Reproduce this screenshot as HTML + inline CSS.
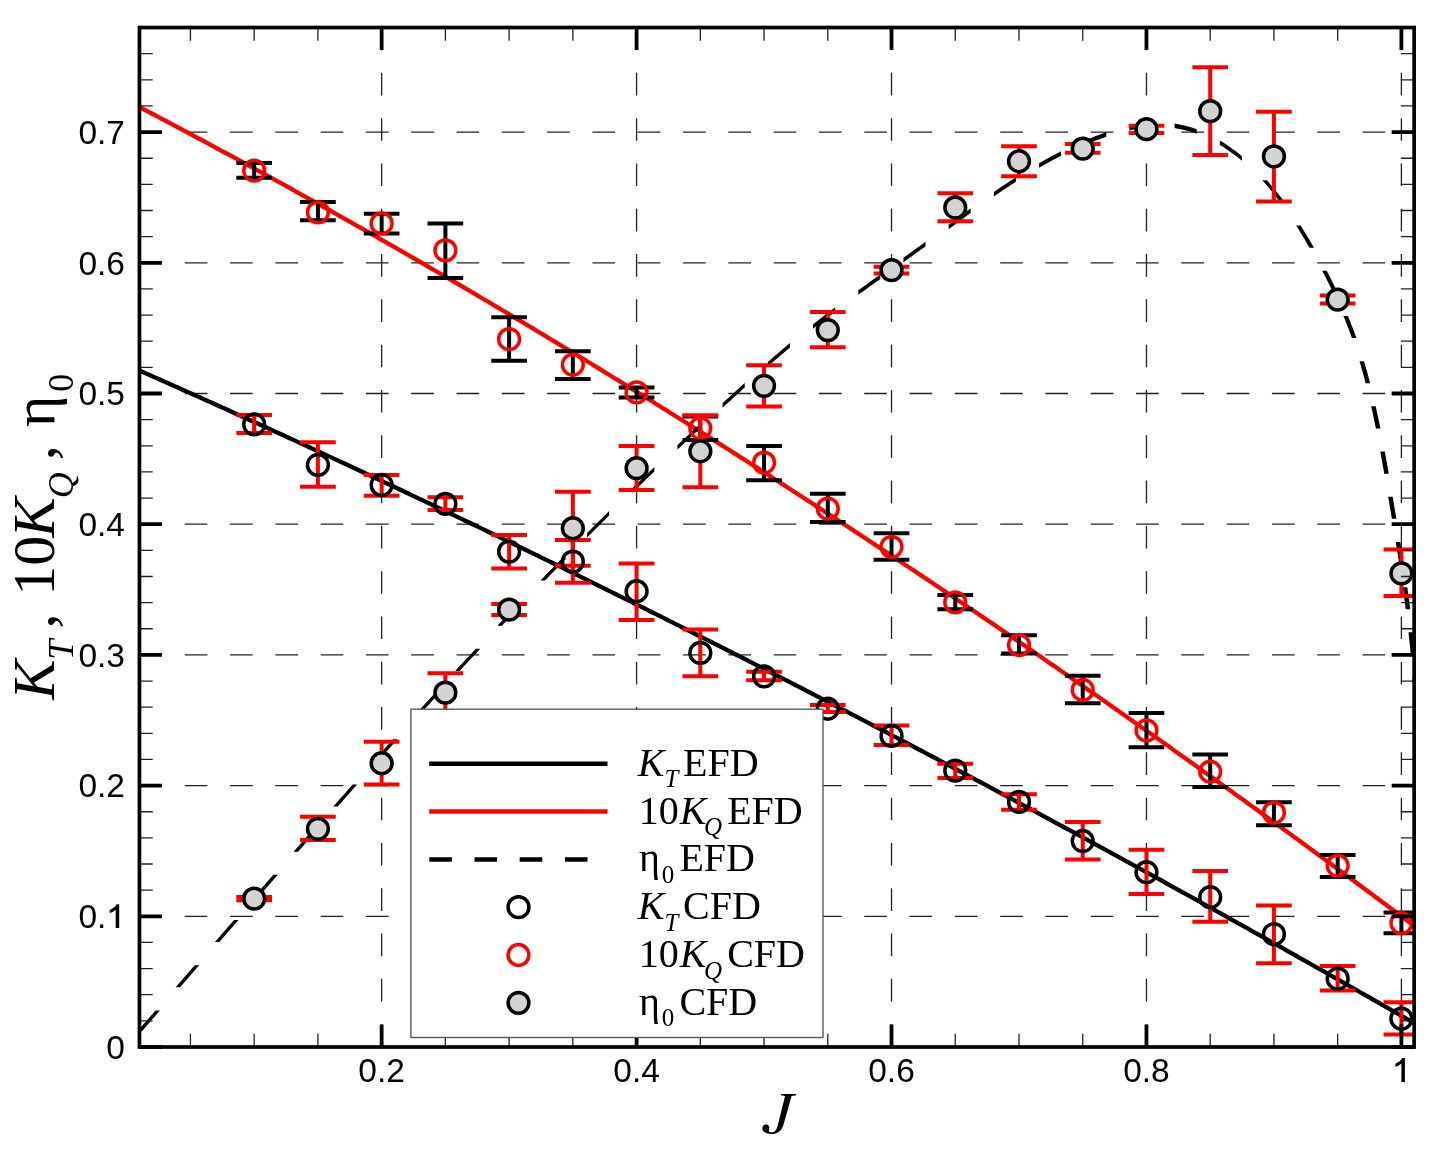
<!DOCTYPE html>
<html><head><meta charset="utf-8"><style>
html,body{margin:0;padding:0;background:#fff;overflow:hidden;}
svg{display:block;will-change:transform;}
</style></head><body>
<svg width="1438" height="1152" viewBox="0 0 1438 1152">
<defs><clipPath id="c"><rect x="139.45" y="27.54" width="1274.70" height="1019.46"/></clipPath></defs>
<path d="M139.45,916.30H162.10M184.75,916.30H207.40M230.05,916.30H252.70M275.35,916.30H298.00M320.65,916.30H343.30M365.95,916.30H388.60M411.25,916.30H433.90M456.55,916.30H479.20M501.85,916.30H524.50M547.15,916.30H569.80M592.45,916.30H615.10M637.75,916.30H660.40M683.05,916.30H705.70M728.35,916.30H751.00M773.65,916.30H796.30M818.95,916.30H841.60M864.25,916.30H886.90M909.55,916.30H932.20M954.85,916.30H977.50M1000.15,916.30H1022.80M1045.45,916.30H1068.10M1090.75,916.30H1113.40M1136.05,916.30H1158.70M1181.35,916.30H1204.00M1226.65,916.30H1249.30M1271.95,916.30H1294.60M1317.25,916.30H1339.90M1362.55,916.30H1385.20M1407.85,916.30H1414.15M139.45,785.60H162.10M184.75,785.60H207.40M230.05,785.60H252.70M275.35,785.60H298.00M320.65,785.60H343.30M365.95,785.60H388.60M411.25,785.60H433.90M456.55,785.60H479.20M501.85,785.60H524.50M547.15,785.60H569.80M592.45,785.60H615.10M637.75,785.60H660.40M683.05,785.60H705.70M728.35,785.60H751.00M773.65,785.60H796.30M818.95,785.60H841.60M864.25,785.60H886.90M909.55,785.60H932.20M954.85,785.60H977.50M1000.15,785.60H1022.80M1045.45,785.60H1068.10M1090.75,785.60H1113.40M1136.05,785.60H1158.70M1181.35,785.60H1204.00M1226.65,785.60H1249.30M1271.95,785.60H1294.60M1317.25,785.60H1339.90M1362.55,785.60H1385.20M1407.85,785.60H1414.15M139.45,654.90H162.10M184.75,654.90H207.40M230.05,654.90H252.70M275.35,654.90H298.00M320.65,654.90H343.30M365.95,654.90H388.60M411.25,654.90H433.90M456.55,654.90H479.20M501.85,654.90H524.50M547.15,654.90H569.80M592.45,654.90H615.10M637.75,654.90H660.40M683.05,654.90H705.70M728.35,654.90H751.00M773.65,654.90H796.30M818.95,654.90H841.60M864.25,654.90H886.90M909.55,654.90H932.20M954.85,654.90H977.50M1000.15,654.90H1022.80M1045.45,654.90H1068.10M1090.75,654.90H1113.40M1136.05,654.90H1158.70M1181.35,654.90H1204.00M1226.65,654.90H1249.30M1271.95,654.90H1294.60M1317.25,654.90H1339.90M1362.55,654.90H1385.20M1407.85,654.90H1414.15M139.45,524.20H162.10M184.75,524.20H207.40M230.05,524.20H252.70M275.35,524.20H298.00M320.65,524.20H343.30M365.95,524.20H388.60M411.25,524.20H433.90M456.55,524.20H479.20M501.85,524.20H524.50M547.15,524.20H569.80M592.45,524.20H615.10M637.75,524.20H660.40M683.05,524.20H705.70M728.35,524.20H751.00M773.65,524.20H796.30M818.95,524.20H841.60M864.25,524.20H886.90M909.55,524.20H932.20M954.85,524.20H977.50M1000.15,524.20H1022.80M1045.45,524.20H1068.10M1090.75,524.20H1113.40M1136.05,524.20H1158.70M1181.35,524.20H1204.00M1226.65,524.20H1249.30M1271.95,524.20H1294.60M1317.25,524.20H1339.90M1362.55,524.20H1385.20M1407.85,524.20H1414.15M139.45,393.50H162.10M184.75,393.50H207.40M230.05,393.50H252.70M275.35,393.50H298.00M320.65,393.50H343.30M365.95,393.50H388.60M411.25,393.50H433.90M456.55,393.50H479.20M501.85,393.50H524.50M547.15,393.50H569.80M592.45,393.50H615.10M637.75,393.50H660.40M683.05,393.50H705.70M728.35,393.50H751.00M773.65,393.50H796.30M818.95,393.50H841.60M864.25,393.50H886.90M909.55,393.50H932.20M954.85,393.50H977.50M1000.15,393.50H1022.80M1045.45,393.50H1068.10M1090.75,393.50H1113.40M1136.05,393.50H1158.70M1181.35,393.50H1204.00M1226.65,393.50H1249.30M1271.95,393.50H1294.60M1317.25,393.50H1339.90M1362.55,393.50H1385.20M1407.85,393.50H1414.15M139.45,262.80H162.10M184.75,262.80H207.40M230.05,262.80H252.70M275.35,262.80H298.00M320.65,262.80H343.30M365.95,262.80H388.60M411.25,262.80H433.90M456.55,262.80H479.20M501.85,262.80H524.50M547.15,262.80H569.80M592.45,262.80H615.10M637.75,262.80H660.40M683.05,262.80H705.70M728.35,262.80H751.00M773.65,262.80H796.30M818.95,262.80H841.60M864.25,262.80H886.90M909.55,262.80H932.20M954.85,262.80H977.50M1000.15,262.80H1022.80M1045.45,262.80H1068.10M1090.75,262.80H1113.40M1136.05,262.80H1158.70M1181.35,262.80H1204.00M1226.65,262.80H1249.30M1271.95,262.80H1294.60M1317.25,262.80H1339.90M1362.55,262.80H1385.20M1407.85,262.80H1414.15M139.45,132.10H162.10M184.75,132.10H207.40M230.05,132.10H252.70M275.35,132.10H298.00M320.65,132.10H343.30M365.95,132.10H388.60M411.25,132.10H433.90M456.55,132.10H479.20M501.85,132.10H524.50M547.15,132.10H569.80M592.45,132.10H615.10M637.75,132.10H660.40M683.05,132.10H705.70M728.35,132.10H751.00M773.65,132.10H796.30M818.95,132.10H841.60M864.25,132.10H886.90M909.55,132.10H932.20M954.85,132.10H977.50M1000.15,132.10H1022.80M1045.45,132.10H1068.10M1090.75,132.10H1113.40M1136.05,132.10H1158.70M1181.35,132.10H1204.00M1226.65,132.10H1249.30M1271.95,132.10H1294.60M1317.25,132.10H1339.90M1362.55,132.10H1385.20M1407.85,132.10H1414.15M381.64,27.54V50.19M381.64,72.84V95.49M381.64,118.14V140.79M381.64,163.44V186.09M381.64,208.74V231.39M381.64,254.04V276.69M381.64,299.34V321.99M381.64,344.64V367.29M381.64,389.94V412.59M381.64,435.24V457.89M381.64,480.54V503.19M381.64,525.84V548.49M381.64,571.14V593.79M381.64,616.44V639.09M381.64,661.74V684.39M381.64,707.04V729.69M381.64,752.34V774.99M381.64,797.64V820.29M381.64,842.94V865.59M381.64,888.24V910.89M381.64,933.54V956.19M381.64,978.84V1001.49M381.64,1024.14V1046.79M636.58,27.54V50.19M636.58,72.84V95.49M636.58,118.14V140.79M636.58,163.44V186.09M636.58,208.74V231.39M636.58,254.04V276.69M636.58,299.34V321.99M636.58,344.64V367.29M636.58,389.94V412.59M636.58,435.24V457.89M636.58,480.54V503.19M636.58,525.84V548.49M636.58,571.14V593.79M636.58,616.44V639.09M636.58,661.74V684.39M636.58,707.04V729.69M636.58,752.34V774.99M636.58,797.64V820.29M636.58,842.94V865.59M636.58,888.24V910.89M636.58,933.54V956.19M636.58,978.84V1001.49M636.58,1024.14V1046.79M891.52,27.54V50.19M891.52,72.84V95.49M891.52,118.14V140.79M891.52,163.44V186.09M891.52,208.74V231.39M891.52,254.04V276.69M891.52,299.34V321.99M891.52,344.64V367.29M891.52,389.94V412.59M891.52,435.24V457.89M891.52,480.54V503.19M891.52,525.84V548.49M891.52,571.14V593.79M891.52,616.44V639.09M891.52,661.74V684.39M891.52,707.04V729.69M891.52,752.34V774.99M891.52,797.64V820.29M891.52,842.94V865.59M891.52,888.24V910.89M891.52,933.54V956.19M891.52,978.84V1001.49M891.52,1024.14V1046.79M1146.46,27.54V50.19M1146.46,72.84V95.49M1146.46,118.14V140.79M1146.46,163.44V186.09M1146.46,208.74V231.39M1146.46,254.04V276.69M1146.46,299.34V321.99M1146.46,344.64V367.29M1146.46,389.94V412.59M1146.46,435.24V457.89M1146.46,480.54V503.19M1146.46,525.84V548.49M1146.46,571.14V593.79M1146.46,616.44V639.09M1146.46,661.74V684.39M1146.46,707.04V729.69M1146.46,752.34V774.99M1146.46,797.64V820.29M1146.46,842.94V865.59M1146.46,888.24V910.89M1146.46,933.54V956.19M1146.46,978.84V1001.49M1146.46,1024.14V1046.79M1401.40,27.54V50.19M1401.40,72.84V95.49M1401.40,118.14V140.79M1401.40,163.44V186.09M1401.40,208.74V231.39M1401.40,254.04V276.69M1401.40,299.34V321.99M1401.40,344.64V367.29M1401.40,389.94V412.59M1401.40,435.24V457.89M1401.40,480.54V503.19M1401.40,525.84V548.49M1401.40,571.14V593.79M1401.40,616.44V639.09M1401.40,661.74V684.39M1401.40,707.04V729.69M1401.40,752.34V774.99M1401.40,797.64V820.29M1401.40,842.94V865.59M1401.40,888.24V910.89M1401.40,933.54V956.19M1401.40,978.84V1001.49M1401.40,1024.14V1046.79" stroke="#222" stroke-width="1.3" fill="none"/>
<g clip-path="url(#c)">
<path d="M139.45,370.55 L142.64,371.96 L145.84,373.37 L149.03,374.79 L152.23,376.20 L155.42,377.62 L158.62,379.04 L161.81,380.45 L165.00,381.87 L168.20,383.30 L171.39,384.72 L174.59,386.14 L177.78,387.57 L180.98,388.99 L184.17,390.42 L187.37,391.85 L190.56,393.28 L193.76,394.71 L196.95,396.14 L200.15,397.57 L203.34,399.01 L206.54,400.44 L209.73,401.88 L212.93,403.32 L216.12,404.76 L219.32,406.20 L222.51,407.64 L225.70,409.08 L228.90,410.53 L232.09,411.97 L235.29,413.42 L238.48,414.87 L241.68,416.32 L244.87,417.77 L248.07,419.22 L251.26,420.67 L254.46,422.13 L257.65,423.58 L260.85,425.04 L264.04,426.50 L267.24,427.95 L270.43,429.41 L273.63,430.88 L276.82,432.34 L280.02,433.80 L283.21,435.27 L286.40,436.73 L289.60,438.20 L292.79,439.67 L295.99,441.14 L299.18,442.61 L302.38,444.08 L305.57,445.55 L308.77,447.03 L311.96,448.50 L315.16,449.98 L318.35,451.46 L321.55,452.94 L324.74,454.42 L327.94,455.90 L331.13,457.38 L334.33,458.86 L337.52,460.35 L340.72,461.83 L343.91,463.32 L347.10,464.81 L350.30,466.30 L353.49,467.79 L356.69,469.28 L359.88,470.78 L363.08,472.27 L366.27,473.77 L369.47,475.26 L372.66,476.76 L375.86,478.26 L379.05,479.76 L382.25,481.26 L385.44,482.76 L388.64,484.27 L391.83,485.77 L395.03,487.28 L398.22,488.79 L401.42,490.29 L404.61,491.80 L407.80,493.31 L411.00,494.83 L414.19,496.34 L417.39,497.85 L420.58,499.37 L423.78,500.89 L426.97,502.40 L430.17,503.92 L433.36,505.44 L436.56,506.96 L439.75,508.49 L442.95,510.01 L446.14,511.53 L449.34,513.06 L452.53,514.59 L455.73,516.11 L458.92,517.64 L462.12,519.17 L465.31,520.71 L468.50,522.24 L471.70,523.77 L474.89,525.31 L478.09,526.84 L481.28,528.38 L484.48,529.92 L487.67,531.46 L490.87,533.00 L494.06,534.54 L497.26,536.08 L500.45,537.63 L503.65,539.17 L506.84,540.72 L510.04,542.27 L513.23,543.82 L516.43,545.37 L519.62,546.92 L522.82,548.47 L526.01,550.02 L529.20,551.58 L532.40,553.13 L535.59,554.69 L538.79,556.25 L541.98,557.81 L545.18,559.37 L548.37,560.93 L551.57,562.49 L554.76,564.05 L557.96,565.62 L561.15,567.18 L564.35,568.75 L567.54,570.32 L570.74,571.89 L573.93,573.46 L577.13,575.03 L580.32,576.60 L583.52,578.18 L586.71,579.75 L589.90,581.33 L593.10,582.90 L596.29,584.48 L599.49,586.06 L602.68,587.64 L605.88,589.22 L609.07,590.81 L612.27,592.39 L615.46,593.98 L618.66,595.56 L621.85,597.15 L625.05,598.74 L628.24,600.33 L631.44,601.92 L634.63,603.51 L637.83,605.10 L641.02,606.69 L644.22,608.29 L647.41,609.88 L650.60,611.48 L653.80,613.08 L656.99,614.68 L660.19,616.28 L663.38,617.88 L666.58,619.48 L669.77,621.09 L672.97,622.69 L676.16,624.30 L679.36,625.91 L682.55,627.51 L685.75,629.12 L688.94,630.73 L692.14,632.34 L695.33,633.96 L698.53,635.57 L701.72,637.18 L704.92,638.80 L708.11,640.42 L711.30,642.04 L714.50,643.65 L717.69,645.27 L720.89,646.90 L724.08,648.52 L727.28,650.14 L730.47,651.77 L733.67,653.39 L736.86,655.02 L740.06,656.65 L743.25,658.27 L746.45,659.90 L749.64,661.54 L752.84,663.17 L756.03,664.80 L759.23,666.43 L762.42,668.07 L765.62,669.71 L768.81,671.34 L772.00,672.98 L775.20,674.62 L778.39,676.26 L781.59,677.90 L784.78,679.55 L787.98,681.19 L791.17,682.84 L794.37,684.48 L797.56,686.13 L800.76,687.78 L803.95,689.43 L807.15,691.08 L810.34,692.73 L813.54,694.38 L816.73,696.04 L819.93,697.69 L823.12,699.35 L826.32,701.00 L829.51,702.66 L832.70,704.32 L835.90,705.98 L839.09,707.64 L842.29,709.30 L845.48,710.97 L848.68,712.63 L851.87,714.29 L855.07,715.96 L858.26,717.63 L861.46,719.30 L864.65,720.97 L867.85,722.64 L871.04,724.31 L874.24,725.98 L877.43,727.65 L880.63,729.33 L883.82,731.00 L887.02,732.68 L890.21,734.36 L893.40,736.04 L896.60,737.72 L899.79,739.40 L902.99,741.08 L906.18,742.76 L909.38,744.45 L912.57,746.13 L915.77,747.82 L918.96,749.51 L922.16,751.20 L925.35,752.89 L928.55,754.58 L931.74,756.27 L934.94,757.96 L938.13,759.65 L941.33,761.35 L944.52,763.04 L947.72,764.74 L950.91,766.44 L954.10,768.14 L957.30,769.84 L960.49,771.54 L963.69,773.24 L966.88,774.94 L970.08,776.65 L973.27,778.35 L976.47,780.06 L979.66,781.76 L982.86,783.47 L986.05,785.18 L989.25,786.89 L992.44,788.60 L995.64,790.31 L998.83,792.03 L1002.03,793.74 L1005.22,795.46 L1008.42,797.17 L1011.61,798.89 L1014.80,800.61 L1018.00,802.33 L1021.19,804.05 L1024.39,805.77 L1027.58,807.49 L1030.78,809.21 L1033.97,810.94 L1037.17,812.66 L1040.36,814.39 L1043.56,816.12 L1046.75,817.84 L1049.95,819.57 L1053.14,821.30 L1056.34,823.04 L1059.53,824.77 L1062.73,826.50 L1065.92,828.24 L1069.12,829.97 L1072.31,831.71 L1075.50,833.45 L1078.70,835.18 L1081.89,836.92 L1085.09,838.66 L1088.28,840.40 L1091.48,842.15 L1094.67,843.89 L1097.87,845.64 L1101.06,847.38 L1104.26,849.13 L1107.45,850.87 L1110.65,852.62 L1113.84,854.37 L1117.04,856.12 L1120.23,857.87 L1123.43,859.63 L1126.62,861.38 L1129.82,863.13 L1133.01,864.89 L1136.20,866.65 L1139.40,868.40 L1142.59,870.16 L1145.79,871.92 L1148.98,873.68 L1152.18,875.44 L1155.37,877.20 L1158.57,878.97 L1161.76,880.73 L1164.96,882.50 L1168.15,884.26 L1171.35,886.03 L1174.54,887.80 L1177.74,889.57 L1180.93,891.34 L1184.13,893.11 L1187.32,894.88 L1190.52,896.65 L1193.71,898.43 L1196.90,900.20 L1200.10,901.98 L1203.29,903.76 L1206.49,905.53 L1209.68,907.31 L1212.88,909.09 L1216.07,910.87 L1219.27,912.66 L1222.46,914.44 L1225.66,916.22 L1228.85,918.01 L1232.05,919.79 L1235.24,921.58 L1238.44,923.37 L1241.63,925.15 L1244.83,926.94 L1248.02,928.73 L1251.22,930.53 L1254.41,932.32 L1257.60,934.11 L1260.80,935.91 L1263.99,937.70 L1267.19,939.50 L1270.38,941.30 L1273.58,943.09 L1276.77,944.89 L1279.97,946.69 L1283.16,948.49 L1286.36,950.30 L1289.55,952.10 L1292.75,953.90 L1295.94,955.71 L1299.14,957.51 L1302.33,959.32 L1305.53,961.13 L1308.72,962.94 L1311.92,964.75 L1315.11,966.56 L1318.30,968.37 L1321.50,970.18 L1324.69,971.99 L1327.89,973.81 L1331.08,975.62 L1334.28,977.44 L1337.47,979.26 L1340.67,981.07 L1343.86,982.89 L1347.06,984.71 L1350.25,986.53 L1353.45,988.36 L1356.64,990.18 L1359.84,992.00 L1363.03,993.83 L1366.23,995.65 L1369.42,997.48 L1372.62,999.31 L1375.81,1001.13 L1379.00,1002.96 L1382.20,1004.79 L1385.39,1006.63 L1388.59,1008.46 L1391.78,1010.29 L1394.98,1012.12 L1398.17,1013.96 L1401.37,1015.80 L1404.56,1017.63 L1407.76,1019.47 L1410.95,1021.31 L1414.15,1023.15" stroke="#000" stroke-width="4.3" fill="none"/>
<path d="M139.45,107.06 L142.64,108.74 L145.84,110.41 L149.03,112.09 L152.23,113.77 L155.42,115.46 L158.62,117.14 L161.81,118.83 L165.00,120.52 L168.20,122.21 L171.39,123.90 L174.59,125.60 L177.78,127.29 L180.98,128.99 L184.17,130.69 L187.37,132.40 L190.56,134.10 L193.76,135.81 L196.95,137.52 L200.15,139.23 L203.34,140.94 L206.54,142.66 L209.73,144.38 L212.93,146.10 L216.12,147.82 L219.32,149.54 L222.51,151.27 L225.70,153.00 L228.90,154.73 L232.09,156.46 L235.29,158.19 L238.48,159.93 L241.68,161.67 L244.87,163.41 L248.07,165.15 L251.26,166.89 L254.46,168.64 L257.65,170.39 L260.85,172.14 L264.04,173.89 L267.24,175.64 L270.43,177.40 L273.63,179.16 L276.82,180.92 L280.02,182.68 L283.21,184.45 L286.40,186.21 L289.60,187.98 L292.79,189.75 L295.99,191.53 L299.18,193.30 L302.38,195.08 L305.57,196.86 L308.77,198.64 L311.96,200.42 L315.16,202.20 L318.35,203.99 L321.55,205.78 L324.74,207.57 L327.94,209.36 L331.13,211.16 L334.33,212.95 L337.52,214.75 L340.72,216.55 L343.91,218.36 L347.10,220.16 L350.30,221.97 L353.49,223.78 L356.69,225.59 L359.88,227.40 L363.08,229.21 L366.27,231.03 L369.47,232.85 L372.66,234.67 L375.86,236.49 L379.05,238.32 L382.25,240.14 L385.44,241.97 L388.64,243.80 L391.83,245.63 L395.03,247.47 L398.22,249.30 L401.42,251.14 L404.61,252.98 L407.80,254.82 L411.00,256.67 L414.19,258.52 L417.39,260.36 L420.58,262.21 L423.78,264.07 L426.97,265.92 L430.17,267.78 L433.36,269.63 L436.56,271.49 L439.75,273.36 L442.95,275.22 L446.14,277.08 L449.34,278.95 L452.53,280.82 L455.73,282.69 L458.92,284.57 L462.12,286.44 L465.31,288.32 L468.50,290.20 L471.70,292.08 L474.89,293.96 L478.09,295.85 L481.28,297.74 L484.48,299.63 L487.67,301.52 L490.87,303.41 L494.06,305.30 L497.26,307.20 L500.45,309.10 L503.65,311.00 L506.84,312.90 L510.04,314.81 L513.23,316.71 L516.43,318.62 L519.62,320.53 L522.82,322.44 L526.01,324.36 L529.20,326.27 L532.40,328.19 L535.59,330.11 L538.79,332.03 L541.98,333.96 L545.18,335.88 L548.37,337.81 L551.57,339.74 L554.76,341.67 L557.96,343.60 L561.15,345.54 L564.35,347.48 L567.54,349.41 L570.74,351.36 L573.93,353.30 L577.13,355.24 L580.32,357.19 L583.52,359.14 L586.71,361.09 L589.90,363.04 L593.10,364.99 L596.29,366.95 L599.49,368.91 L602.68,370.87 L605.88,372.83 L609.07,374.79 L612.27,376.76 L615.46,378.72 L618.66,380.69 L621.85,382.66 L625.05,384.64 L628.24,386.61 L631.44,388.59 L634.63,390.57 L637.83,392.55 L641.02,394.53 L644.22,396.51 L647.41,398.50 L650.60,400.49 L653.80,402.48 L656.99,404.47 L660.19,406.46 L663.38,408.46 L666.58,410.45 L669.77,412.45 L672.97,414.45 L676.16,416.45 L679.36,418.46 L682.55,420.47 L685.75,422.47 L688.94,424.48 L692.14,426.50 L695.33,428.51 L698.53,430.52 L701.72,432.54 L704.92,434.56 L708.11,436.58 L711.30,438.60 L714.50,440.63 L717.69,442.66 L720.89,444.68 L724.08,446.71 L727.28,448.75 L730.47,450.78 L733.67,452.82 L736.86,454.85 L740.06,456.89 L743.25,458.93 L746.45,460.98 L749.64,463.02 L752.84,465.07 L756.03,467.12 L759.23,469.17 L762.42,471.22 L765.62,473.27 L768.81,475.33 L772.00,477.39 L775.20,479.44 L778.39,481.51 L781.59,483.57 L784.78,485.63 L787.98,487.70 L791.17,489.77 L794.37,491.84 L797.56,493.91 L800.76,495.98 L803.95,498.06 L807.15,500.14 L810.34,502.22 L813.54,504.30 L816.73,506.38 L819.93,508.46 L823.12,510.55 L826.32,512.64 L829.51,514.73 L832.70,516.82 L835.90,518.91 L839.09,521.01 L842.29,523.11 L845.48,525.20 L848.68,527.30 L851.87,529.41 L855.07,531.51 L858.26,533.62 L861.46,535.72 L864.65,537.83 L867.85,539.94 L871.04,542.06 L874.24,544.17 L877.43,546.29 L880.63,548.41 L883.82,550.53 L887.02,552.65 L890.21,554.77 L893.40,556.90 L896.60,559.02 L899.79,561.15 L902.99,563.28 L906.18,565.42 L909.38,567.55 L912.57,569.69 L915.77,571.82 L918.96,573.96 L922.16,576.10 L925.35,578.25 L928.55,580.39 L931.74,582.54 L934.94,584.68 L938.13,586.83 L941.33,588.99 L944.52,591.14 L947.72,593.29 L950.91,595.45 L954.10,597.61 L957.30,599.77 L960.49,601.93 L963.69,604.09 L966.88,606.26 L970.08,608.43 L973.27,610.60 L976.47,612.77 L979.66,614.94 L982.86,617.11 L986.05,619.29 L989.25,621.47 L992.44,623.64 L995.64,625.83 L998.83,628.01 L1002.03,630.19 L1005.22,632.38 L1008.42,634.57 L1011.61,636.75 L1014.80,638.95 L1018.00,641.14 L1021.19,643.33 L1024.39,645.53 L1027.58,647.73 L1030.78,649.93 L1033.97,652.13 L1037.17,654.33 L1040.36,656.54 L1043.56,658.74 L1046.75,660.95 L1049.95,663.16 L1053.14,665.37 L1056.34,667.58 L1059.53,669.80 L1062.73,672.02 L1065.92,674.23 L1069.12,676.45 L1072.31,678.67 L1075.50,680.90 L1078.70,683.12 L1081.89,685.35 L1085.09,687.58 L1088.28,689.81 L1091.48,692.04 L1094.67,694.27 L1097.87,696.51 L1101.06,698.74 L1104.26,700.98 L1107.45,703.22 L1110.65,705.46 L1113.84,707.71 L1117.04,709.95 L1120.23,712.20 L1123.43,714.45 L1126.62,716.70 L1129.82,718.95 L1133.01,721.20 L1136.20,723.46 L1139.40,725.71 L1142.59,727.97 L1145.79,730.23 L1148.98,732.49 L1152.18,734.75 L1155.37,737.02 L1158.57,739.29 L1161.76,741.55 L1164.96,743.82 L1168.15,746.09 L1171.35,748.37 L1174.54,750.64 L1177.74,752.92 L1180.93,755.20 L1184.13,757.48 L1187.32,759.76 L1190.52,762.04 L1193.71,764.32 L1196.90,766.61 L1200.10,768.90 L1203.29,771.19 L1206.49,773.48 L1209.68,775.77 L1212.88,778.06 L1216.07,780.36 L1219.27,782.66 L1222.46,784.96 L1225.66,787.26 L1228.85,789.56 L1232.05,791.86 L1235.24,794.17 L1238.44,796.48 L1241.63,798.78 L1244.83,801.09 L1248.02,803.41 L1251.22,805.72 L1254.41,808.03 L1257.60,810.35 L1260.80,812.67 L1263.99,814.99 L1267.19,817.31 L1270.38,819.63 L1273.58,821.96 L1276.77,824.28 L1279.97,826.61 L1283.16,828.94 L1286.36,831.27 L1289.55,833.61 L1292.75,835.94 L1295.94,838.28 L1299.14,840.61 L1302.33,842.95 L1305.53,845.29 L1308.72,847.63 L1311.92,849.98 L1315.11,852.32 L1318.30,854.67 L1321.50,857.02 L1324.69,859.37 L1327.89,861.72 L1331.08,864.07 L1334.28,866.43 L1337.47,868.78 L1340.67,871.14 L1343.86,873.50 L1347.06,875.86 L1350.25,878.22 L1353.45,880.59 L1356.64,882.95 L1359.84,885.32 L1363.03,887.69 L1366.23,890.06 L1369.42,892.43 L1372.62,894.81 L1375.81,897.18 L1379.00,899.56 L1382.20,901.94 L1385.39,904.32 L1388.59,906.70 L1391.78,909.08 L1394.98,911.46 L1398.17,913.85 L1401.37,916.24 L1404.56,918.63 L1407.76,921.02 L1410.95,923.41 L1414.15,925.80" stroke="#f00" stroke-width="4.3" fill="none"/>
<path d="M141.96,1031.19 L143.97,1028.88 L145.97,1026.58 L147.98,1024.28 L149.99,1021.97 L152.33,1019.28 L154.33,1016.97 L156.34,1014.67 L158.35,1012.36 L160.06,1010.39 L155.56,1010.39 L153.85,1012.36 L151.84,1014.67 L149.83,1016.97 L147.83,1019.28 L145.49,1021.97 L143.48,1024.28 L141.47,1026.58 L139.47,1028.88 L137.46,1031.19ZM180.13,987.29 L182.07,985.05 L184.41,982.36 L186.42,980.05 L188.76,977.35 L190.76,975.04 L193.10,972.35 L195.10,970.04 L197.44,967.34 L199.31,965.19 L194.81,965.19 L192.94,967.34 L190.60,970.04 L188.60,972.35 L186.26,975.04 L184.26,977.35 L181.92,980.05 L179.91,982.36 L177.57,985.05 L175.63,987.29ZM219.35,942.09 L221.17,940.00 L223.51,937.30 L225.51,934.99 L227.85,932.29 L229.86,929.98 L232.20,927.29 L234.20,924.98 L236.54,922.28 L238.53,919.99 L234.03,919.99 L232.04,922.28 L229.70,924.98 L227.70,927.29 L225.36,929.98 L223.35,932.29 L221.01,934.99 L219.01,937.30 L216.67,940.00 L214.85,942.09ZM258.61,896.89 L260.64,894.56 L262.64,892.25 L264.99,889.55 L267.00,887.25 L269.34,884.55 L271.35,882.24 L273.70,879.55 L275.71,877.24 L277.85,874.79 L273.35,874.79 L271.21,877.24 L269.20,879.55 L266.85,882.24 L264.84,884.55 L262.50,887.25 L260.49,889.55 L258.14,892.25 L256.14,894.56 L254.11,896.89ZM298.02,851.69 L300.21,849.19 L302.23,846.88 L304.58,844.19 L306.60,841.89 L308.95,839.20 L310.97,836.90 L313.32,834.22 L315.34,831.91 L317.39,829.59 L312.89,829.59 L310.84,831.91 L308.82,834.22 L306.47,836.90 L304.45,839.20 L302.10,841.89 L300.08,844.19 L297.73,846.88 L295.71,849.19 L293.52,851.69ZM337.71,806.49 L339.95,803.95 L341.98,801.65 L344.35,798.98 L346.37,796.68 L348.74,794.01 L350.77,791.71 L353.14,789.04 L355.17,786.75 L357.26,784.39 L352.76,784.39 L350.67,786.75 L348.64,789.04 L346.27,791.71 L344.24,794.01 L341.87,796.68 L339.85,798.98 L337.48,801.65 L335.45,803.95 L333.21,806.49ZM377.81,761.29 L379.93,758.91 L381.97,756.63 L384.35,753.97 L386.39,751.69 L388.77,749.03 L390.82,746.75 L393.20,744.09 L395.25,741.81 L397.60,739.19 L393.10,739.19 L390.75,741.81 L388.70,744.09 L386.32,746.75 L384.27,749.03 L381.89,751.69 L379.85,753.97 L377.47,756.63 L375.43,758.91 L373.31,761.29ZM418.44,716.09 L420.54,713.77 L422.59,711.51 L424.99,708.86 L427.39,706.22 L429.45,703.96 L431.86,701.31 L434.26,698.68 L436.33,696.41 L438.54,693.99 L434.04,693.99 L431.83,696.41 L429.76,698.68 L427.36,701.31 L424.95,703.96 L422.89,706.22 L420.49,708.86 L418.09,711.51 L416.04,713.77 L413.94,716.09ZM459.74,670.89 L461.85,668.61 L463.93,666.36 L466.35,663.74 L468.78,661.12 L470.86,658.87 L473.28,656.26 L475.71,653.64 L477.80,651.40 L480.23,648.79 L475.73,648.79 L473.30,651.40 L471.21,653.64 L468.78,656.26 L466.36,658.87 L464.28,661.12 L461.85,663.74 L459.43,666.36 L457.35,668.61 L455.24,670.89ZM501.88,625.69 L504.30,623.12 L506.40,620.90 L508.85,618.30 L511.30,615.71 L513.41,613.49 L515.86,610.90 L518.32,608.32 L520.43,606.10 L522.83,603.59 L518.33,603.59 L515.93,606.10 L513.82,608.32 L511.36,610.90 L508.91,613.49 L506.80,615.71 L504.35,618.30 L501.90,620.90 L499.80,623.12 L497.38,625.69ZM545.00,580.49 L547.26,578.15 L549.74,575.59 L552.23,573.03 L554.71,570.47 L556.84,568.28 L559.33,565.72 L561.83,563.17 L564.32,560.62 L566.50,558.39 L562.00,558.39 L559.82,560.62 L557.33,563.17 L554.83,565.72 L552.34,568.28 L550.21,570.47 L547.73,573.03 L545.24,575.59 L542.76,578.15 L540.50,580.49ZM587.05,537.54 L589.27,535.30 L591.79,532.77 L594.31,530.25 L596.84,527.73 L599.36,525.21 L601.89,522.69 L604.42,520.18 L606.95,517.66 L609.12,515.51 L609.12,511.01 L606.95,513.16 L604.42,515.68 L601.89,518.19 L599.36,520.71 L596.84,523.23 L594.31,525.75 L591.79,528.27 L589.27,530.80 L587.05,533.04ZM632.22,492.82 L634.58,490.53 L637.14,488.05 L639.34,485.92 L641.90,483.44 L644.46,480.96 L647.03,478.49 L649.24,476.37 L651.81,473.90 L654.32,471.49 L654.32,466.99 L651.81,469.40 L649.24,471.87 L647.03,473.99 L644.46,476.46 L641.90,478.94 L639.34,481.42 L637.14,483.55 L634.58,486.03 L632.22,488.32ZM677.42,449.57 L679.90,447.24 L682.13,445.15 L684.74,442.71 L687.35,440.28 L689.58,438.19 L692.19,435.76 L694.81,433.33 L697.05,431.25 L699.52,428.96 L699.52,424.46 L697.05,426.75 L694.81,428.83 L692.19,431.26 L689.58,433.69 L687.35,435.78 L684.74,438.21 L682.13,440.65 L679.90,442.74 L677.42,445.07ZM722.62,407.68 L725.14,405.37 L727.40,403.30 L730.03,400.90 L732.66,398.49 L734.91,396.43 L737.54,394.03 L740.17,391.63 L742.42,389.57 L744.72,387.47 L744.72,382.97 L742.42,385.07 L740.17,387.13 L737.54,389.53 L734.91,391.93 L732.66,393.99 L730.03,396.40 L727.40,398.80 L725.14,400.87 L722.62,403.18ZM767.82,366.61 L769.97,364.70 L772.64,362.35 L774.93,360.34 L777.61,358.01 L779.91,356.01 L782.61,353.70 L784.92,351.72 L787.63,349.42 L789.92,347.50 L789.92,343.00 L787.63,344.92 L784.92,347.22 L782.61,349.20 L779.91,351.51 L777.61,353.51 L774.93,355.84 L772.64,357.85 L769.97,360.20 L767.82,362.11ZM813.02,328.81 L815.24,327.07 L817.65,325.20 L820.46,323.03 L822.88,321.17 L825.30,319.32 L827.72,317.47 L830.56,315.32 L832.99,313.49 L835.12,311.89 L835.12,307.39 L832.99,308.99 L830.56,310.82 L827.72,312.97 L825.30,314.82 L822.88,316.67 L820.46,318.53 L817.65,320.70 L815.24,322.57 L813.02,324.31ZM858.22,294.85 L860.42,293.26 L862.89,291.46 L865.37,289.67 L867.84,287.88 L870.73,285.80 L873.21,284.01 L875.70,282.22 L878.18,280.44 L880.32,278.90 L880.32,274.40 L878.18,275.94 L875.70,277.72 L873.21,279.51 L870.73,281.30 L867.84,283.38 L865.37,285.17 L862.89,286.96 L860.42,288.76 L858.22,290.35ZM903.42,262.30 L905.52,260.79 L908.00,259.00 L910.48,257.21 L912.97,255.41 L915.86,253.31 L918.34,251.51 L920.81,249.70 L923.29,247.89 L925.52,246.25 L925.52,241.75 L923.29,243.39 L920.81,245.20 L918.34,247.01 L915.86,248.81 L912.97,250.91 L910.48,252.71 L908.00,254.50 L905.52,256.29 L903.42,257.80ZM948.62,229.18 L950.83,227.55 L953.30,225.72 L955.76,223.90 L958.23,222.08 L961.11,219.96 L963.59,218.15 L966.06,216.33 L968.54,214.53 L970.72,212.94 L970.72,208.44 L968.54,210.03 L966.06,211.83 L963.59,213.65 L961.11,215.46 L958.23,217.58 L955.76,219.40 L953.30,221.22 L950.83,223.05 L948.62,224.68ZM993.82,196.54 L996.01,195.03 L998.54,193.30 L1001.07,191.58 L1003.61,189.87 L1005.73,188.46 L1008.28,186.77 L1010.84,185.09 L1013.40,183.42 L1015.92,181.80 L1015.92,177.30 L1013.40,178.92 L1010.84,180.59 L1008.28,182.27 L1005.73,183.96 L1003.61,185.37 L1001.07,187.08 L998.54,188.80 L996.01,190.53 L993.82,192.04ZM1039.02,167.75 L1041.26,166.47 L1043.49,165.21 L1046.16,163.73 L1048.85,162.26 L1051.09,161.04 L1053.80,159.61 L1056.52,158.19 L1058.79,157.02 L1061.12,155.84 L1061.12,151.34 L1058.79,152.52 L1056.52,153.69 L1053.80,155.11 L1051.09,156.54 L1048.85,157.76 L1046.16,159.23 L1043.49,160.71 L1041.26,161.97 L1039.02,163.25ZM1084.22,145.17 L1086.29,144.30 L1088.69,143.33 L1091.57,142.17 L1093.98,141.23 L1096.41,140.31 L1098.84,139.40 L1101.77,138.35 L1104.22,137.49 L1106.32,136.78 L1106.32,132.28 L1104.22,132.99 L1101.77,133.85 L1098.84,134.90 L1096.41,135.81 L1093.98,136.73 L1091.57,137.67 L1088.69,138.83 L1086.29,139.80 L1084.22,140.67ZM1129.42,130.38 L1131.53,129.94 L1134.03,129.45 L1136.53,129.01 L1139.03,128.61 L1142.02,128.18 L1144.52,127.87 L1147.01,127.60 L1149.51,127.38 L1151.52,127.24 L1151.52,122.74 L1149.51,122.88 L1147.01,123.10 L1144.52,123.37 L1142.02,123.68 L1139.03,124.11 L1136.53,124.51 L1134.03,124.95 L1131.53,125.44 L1129.42,125.88ZM1174.62,128.08 L1176.58,128.38 L1179.47,128.90 L1181.88,129.40 L1184.27,129.96 L1187.13,130.70 L1189.50,131.37 L1191.85,132.10 L1194.67,133.04 L1196.72,133.77 L1196.72,129.27 L1194.67,128.54 L1191.85,127.60 L1189.50,126.87 L1187.13,126.20 L1184.27,125.46 L1181.88,124.90 L1179.47,124.40 L1176.58,123.88 L1174.62,123.58ZM1219.82,144.93 L1222.12,146.33 L1224.70,147.96 L1227.24,149.64 L1229.76,151.38 L1232.25,153.15 L1234.71,154.98 L1237.15,156.84 L1239.55,158.75 L1241.92,160.69 L1241.92,156.19 L1239.55,154.25 L1237.15,152.34 L1234.71,150.48 L1232.25,148.65 L1229.76,146.88 L1227.24,145.14 L1224.70,143.46 L1222.12,141.83 L1219.82,140.43ZM1266.82,180.33 L1268.73,182.47 L1270.77,184.81 L1273.11,187.56 L1275.09,189.95 L1277.05,192.36 L1278.98,194.80 L1281.21,197.67 L1283.10,200.15 L1284.80,202.43 L1280.30,202.43 L1278.60,200.15 L1276.71,197.67 L1274.48,194.80 L1272.55,192.36 L1270.59,189.95 L1268.61,187.56 L1266.27,184.81 L1264.23,182.47 L1262.32,180.33ZM1300.59,225.53 L1302.20,228.08 L1303.58,230.29 L1305.22,232.94 L1306.57,235.16 L1308.18,237.83 L1309.51,240.06 L1311.09,242.74 L1312.40,244.98 L1313.93,247.63 L1309.43,247.63 L1307.90,244.98 L1306.59,242.74 L1305.01,240.06 L1303.68,237.83 L1302.07,235.16 L1300.72,232.94 L1299.08,230.29 L1297.70,228.08 L1296.09,225.53ZM1326.66,270.73 L1327.77,272.85 L1329.17,275.57 L1330.33,277.83 L1331.70,280.55 L1332.84,282.83 L1334.18,285.56 L1335.29,287.83 L1336.61,290.57 L1337.69,292.83 L1333.19,292.83 L1332.11,290.57 L1330.79,287.83 L1329.68,285.56 L1328.34,282.83 L1327.20,280.55 L1325.83,277.83 L1324.67,275.57 L1323.27,272.85 L1322.16,270.73ZM1347.92,315.93 L1348.88,318.26 L1350.01,321.06 L1350.94,323.40 L1351.85,325.74 L1352.94,328.57 L1353.83,330.92 L1354.71,333.29 L1355.74,336.13 L1356.42,338.03 L1351.92,338.03 L1351.24,336.13 L1350.21,333.29 L1349.33,330.92 L1348.44,328.57 L1347.35,325.74 L1346.44,323.40 L1345.51,321.06 L1344.38,318.26 L1343.42,315.93ZM1363.98,361.13 L1364.69,363.51 L1365.40,365.95 L1366.11,368.39 L1366.80,370.83 L1367.62,373.76 L1368.29,376.21 L1368.95,378.67 L1369.60,381.13 L1370.14,383.23 L1365.64,383.23 L1365.10,381.13 L1364.45,378.67 L1363.79,376.21 L1363.12,373.76 L1362.30,370.83 L1361.61,368.39 L1360.90,365.95 L1360.19,363.51 L1359.48,361.13ZM1375.71,406.33 L1376.18,408.40 L1376.73,410.90 L1377.27,413.40 L1377.81,415.90 L1378.34,418.40 L1378.86,420.91 L1379.38,423.42 L1379.89,425.93 L1380.40,428.43 L1375.90,428.43 L1375.39,425.93 L1374.88,423.42 L1374.36,420.91 L1373.84,418.40 L1373.31,415.90 L1372.77,413.40 L1372.23,410.90 L1371.68,408.40 L1371.21,406.33ZM1384.81,451.53 L1385.19,453.65 L1385.65,456.17 L1386.10,458.70 L1386.55,461.23 L1387.00,463.76 L1387.44,466.28 L1387.88,468.81 L1388.32,471.34 L1388.72,473.63 L1384.22,473.63 L1383.82,471.34 L1383.38,468.81 L1382.94,466.28 L1382.50,463.76 L1382.05,461.23 L1381.60,458.70 L1381.15,456.17 L1380.69,453.65 L1380.31,451.53ZM1392.65,496.73 L1393.05,499.12 L1393.48,501.64 L1393.91,504.16 L1394.33,506.68 L1394.76,509.19 L1395.18,511.71 L1395.61,514.23 L1396.03,516.74 L1396.39,518.83 L1391.89,518.83 L1391.53,516.74 L1391.11,514.23 L1390.68,511.71 L1390.26,509.19 L1389.83,506.68 L1389.41,504.16 L1388.98,501.64 L1388.55,499.12 L1388.15,496.73ZM1400.23,541.93 L1400.63,544.35 L1401.03,546.86 L1401.44,549.37 L1401.84,551.88 L1402.24,554.38 L1402.64,556.89 L1403.04,559.40 L1403.43,561.90 L1403.77,564.03 L1399.27,564.03 L1398.93,561.90 L1398.54,559.40 L1398.14,556.89 L1397.74,554.38 L1397.34,551.88 L1396.94,549.37 L1396.53,546.86 L1396.13,544.35 L1395.73,541.93ZM1407.23,587.13 L1407.57,589.50 L1407.93,592.02 L1408.28,594.53 L1408.62,597.04 L1408.97,599.56 L1409.31,602.07 L1409.64,604.59 L1409.97,607.11 L1410.24,609.23 L1405.74,609.23 L1405.47,607.11 L1405.14,604.59 L1404.81,602.07 L1404.47,599.56 L1404.12,597.04 L1403.78,594.53 L1403.43,592.02 L1403.07,589.50 L1402.73,587.13ZM1413.00,632.33 L1413.22,634.37 L1413.49,636.91 L1413.75,639.44 L1414.01,641.98 L1414.26,644.52 L1414.50,647.06 L1414.74,649.60 L1414.97,652.14 L1415.18,654.43 L1410.68,654.43 L1410.47,652.14 L1410.24,649.60 L1410.00,647.06 L1409.76,644.52 L1409.51,641.98 L1409.25,639.44 L1408.99,636.91 L1408.72,634.37 L1408.50,632.33ZM1416.91,677.53 L1416.92,677.70 L1416.99,678.73 L1417.02,679.24 L1417.08,680.27 L1417.11,680.78 L1417.17,681.81 L1417.20,682.32 L1417.25,683.35 L1417.28,683.87 L1412.78,683.87 L1412.75,683.35 L1412.70,682.32 L1412.67,681.81 L1412.61,680.78 L1412.58,680.27 L1412.52,679.24 L1412.49,678.73 L1412.42,677.70 L1412.41,677.53Z" fill="#000"/>
<path d="M254.17,177.71V163.08M236.32,163.08H272.02M236.32,177.71H272.02" stroke="#000" stroke-width="4.0" fill="none"/>
<path d="M317.91,220.19V202.02M300.06,202.02H335.76M300.06,220.19H335.76" stroke="#000" stroke-width="4.0" fill="none"/>
<path d="M381.64,233.52V213.66M363.79,213.66H399.49M363.79,233.52H399.49" stroke="#000" stroke-width="4.0" fill="none"/>
<path d="M445.38,277.96V223.46M427.52,223.46H463.23M427.52,277.96H463.23" stroke="#000" stroke-width="4.0" fill="none"/>
<path d="M509.11,360.69V317.30M491.26,317.30H526.96M491.26,360.69H526.96" stroke="#000" stroke-width="4.0" fill="none"/>
<path d="M572.85,379.12V351.28M555.00,351.28H590.70M555.00,379.12H590.70" stroke="#000" stroke-width="4.0" fill="none"/>
<path d="M636.58,397.55V387.62M618.73,387.62H654.43M618.73,397.55H654.43" stroke="#000" stroke-width="4.0" fill="none"/>
<path d="M700.32,440.03V416.50M682.47,416.50H718.17M682.47,440.03H718.17" stroke="#000" stroke-width="4.0" fill="none"/>
<path d="M764.05,480.28V445.91M746.20,445.91H781.90M746.20,480.28H781.90" stroke="#000" stroke-width="4.0" fill="none"/>
<path d="M827.79,522.11V493.75M809.94,493.75H845.64M809.94,522.11H845.64" stroke="#000" stroke-width="4.0" fill="none"/>
<path d="M891.52,559.75V533.35M873.67,533.35H909.37M873.67,559.75H909.37" stroke="#000" stroke-width="4.0" fill="none"/>
<path d="M955.26,609.15V595.04M937.41,595.04H973.11M937.41,609.15H973.11" stroke="#000" stroke-width="4.0" fill="none"/>
<path d="M1018.99,653.59V635.16M1001.14,635.16H1036.84M1001.14,653.59H1036.84" stroke="#000" stroke-width="4.0" fill="none"/>
<path d="M1082.73,703.13V675.81M1064.88,675.81H1100.58M1064.88,703.13H1100.58" stroke="#000" stroke-width="4.0" fill="none"/>
<path d="M1146.46,747.17V713.06M1128.61,713.06H1164.31M1128.61,747.17H1164.31" stroke="#000" stroke-width="4.0" fill="none"/>
<path d="M1210.20,787.04V754.62M1192.35,754.62H1228.05M1192.35,787.04H1228.05" stroke="#000" stroke-width="4.0" fill="none"/>
<path d="M1273.93,825.20V802.20M1256.08,802.20H1291.78M1256.08,825.20H1291.78" stroke="#000" stroke-width="4.0" fill="none"/>
<path d="M1337.66,876.96V855.00M1319.82,855.00H1355.51M1319.82,876.96H1355.51" stroke="#000" stroke-width="4.0" fill="none"/>
<path d="M1401.40,933.16V912.51M1383.55,912.51H1419.25M1383.55,933.16H1419.25" stroke="#000" stroke-width="4.0" fill="none"/>
<path d="M254.17,432.97V414.93M236.32,414.93H272.02M236.32,432.97H272.02" stroke="#f00" stroke-width="4.0" fill="none"/>
<path d="M317.91,486.82V442.25M300.06,442.25H335.76M300.06,486.82H335.76" stroke="#f00" stroke-width="4.0" fill="none"/>
<path d="M381.64,495.71V475.06M363.79,475.06H399.49M363.79,495.71H399.49" stroke="#f00" stroke-width="4.0" fill="none"/>
<path d="M445.38,509.95V497.28M427.52,497.28H463.23M427.52,509.95H463.23" stroke="#f00" stroke-width="4.0" fill="none"/>
<path d="M509.11,568.38V535.05M491.26,535.05H526.96M491.26,568.38H526.96" stroke="#f00" stroke-width="4.0" fill="none"/>
<path d="M572.85,582.75V539.88M555.00,539.88H590.70M555.00,582.75H590.70" stroke="#f00" stroke-width="4.0" fill="none"/>
<path d="M636.58,620.00V563.54M618.73,563.54H654.43M618.73,620.00H654.43" stroke="#f00" stroke-width="4.0" fill="none"/>
<path d="M700.32,676.33V629.54M682.47,629.54H718.17M682.47,676.33H718.17" stroke="#f00" stroke-width="4.0" fill="none"/>
<path d="M764.05,680.26V671.76M746.20,671.76H781.90M746.20,680.26H781.90" stroke="#f00" stroke-width="4.0" fill="none"/>
<path d="M827.79,712.02V705.09M809.94,705.09H845.64M809.94,712.02H845.64" stroke="#f00" stroke-width="4.0" fill="none"/>
<path d="M891.52,744.95V725.48M873.67,725.48H909.37M873.67,744.95H909.37" stroke="#f00" stroke-width="4.0" fill="none"/>
<path d="M955.26,777.89V763.64M937.41,763.64H973.11M937.41,777.89H973.11" stroke="#f00" stroke-width="4.0" fill="none"/>
<path d="M1018.99,809.65V794.23M1001.14,794.23H1036.84M1001.14,809.65H1036.84" stroke="#f00" stroke-width="4.0" fill="none"/>
<path d="M1082.73,859.45V822.07M1064.88,822.07H1100.58M1064.88,859.45H1100.58" stroke="#f00" stroke-width="4.0" fill="none"/>
<path d="M1146.46,893.95V849.64M1128.61,849.64H1164.31M1128.61,893.95H1164.31" stroke="#f00" stroke-width="4.0" fill="none"/>
<path d="M1210.20,921.66V870.95M1192.35,870.95H1228.05M1192.35,921.66H1228.05" stroke="#f00" stroke-width="4.0" fill="none"/>
<path d="M1273.93,963.22V905.45M1256.08,905.45H1291.78M1256.08,963.22H1291.78" stroke="#f00" stroke-width="4.0" fill="none"/>
<path d="M1337.66,990.54V966.10M1319.82,966.10H1355.51M1319.82,990.54H1355.51" stroke="#f00" stroke-width="4.0" fill="none"/>
<path d="M1401.40,1034.58V1002.30M1383.55,1002.30H1419.25M1383.55,1034.58H1419.25" stroke="#f00" stroke-width="4.0" fill="none"/>
<path d="M254.17,900.22V897.09M236.32,897.09H272.02M236.32,900.22H272.02" stroke="#f00" stroke-width="4.0" fill="none"/>
<path d="M317.91,839.97V816.71M300.06,816.71H335.76M300.06,839.97H335.76" stroke="#f00" stroke-width="4.0" fill="none"/>
<path d="M381.64,784.42V741.68M363.79,741.68H399.49M363.79,784.42H399.49" stroke="#f00" stroke-width="4.0" fill="none"/>
<path d="M445.38,712.15V673.20M427.52,673.20H463.23M427.52,712.15H463.23" stroke="#f00" stroke-width="4.0" fill="none"/>
<path d="M509.11,615.04V604.06M491.26,604.06H526.96M491.26,615.04H526.96" stroke="#f00" stroke-width="4.0" fill="none"/>
<path d="M572.85,565.63V491.66M555.00,491.66H590.70M555.00,565.63H590.70" stroke="#f00" stroke-width="4.0" fill="none"/>
<path d="M636.58,489.96V445.91M618.73,445.91H654.43M618.73,489.96H654.43" stroke="#f00" stroke-width="4.0" fill="none"/>
<path d="M700.32,487.21V415.33M682.47,415.33H718.17M682.47,487.21H718.17" stroke="#f00" stroke-width="4.0" fill="none"/>
<path d="M764.05,406.44V365.14M746.20,365.14H781.90M746.20,406.44H781.90" stroke="#f00" stroke-width="4.0" fill="none"/>
<path d="M827.79,347.36V311.94M809.94,311.94H845.64M809.94,347.36H845.64" stroke="#f00" stroke-width="4.0" fill="none"/>
<path d="M891.52,273.39V266.72M873.67,266.72H909.37M873.67,273.39H909.37" stroke="#f00" stroke-width="4.0" fill="none"/>
<path d="M955.26,221.24V193.14M937.41,193.14H973.11M937.41,221.24H973.11" stroke="#f00" stroke-width="4.0" fill="none"/>
<path d="M1018.99,176.15V146.35M1001.14,146.35H1036.84M1001.14,176.15H1036.84" stroke="#f00" stroke-width="4.0" fill="none"/>
<path d="M1082.73,152.75V144.12M1064.88,144.12H1100.58M1064.88,152.75H1100.58" stroke="#f00" stroke-width="4.0" fill="none"/>
<path d="M1146.46,133.01V125.70M1128.61,125.70H1164.31M1128.61,133.01H1164.31" stroke="#f00" stroke-width="4.0" fill="none"/>
<path d="M1210.20,155.10V67.27M1192.35,67.27H1228.05M1192.35,155.10H1228.05" stroke="#f00" stroke-width="4.0" fill="none"/>
<path d="M1273.93,201.50V111.71M1256.08,111.71H1291.78M1256.08,201.50H1291.78" stroke="#f00" stroke-width="4.0" fill="none"/>
<path d="M1337.66,303.45V295.48M1319.82,295.48H1355.51M1319.82,303.45H1355.51" stroke="#f00" stroke-width="4.0" fill="none"/>
<path d="M1401.40,595.95V549.56M1383.55,549.56H1419.25M1383.55,595.95H1419.25" stroke="#f00" stroke-width="4.0" fill="none"/>
<circle cx="254.17" cy="424.35" r="10.4" stroke="#000" stroke-width="3.5" fill="none"/>
<circle cx="317.91" cy="464.99" r="10.4" stroke="#000" stroke-width="3.5" fill="none"/>
<circle cx="381.64" cy="484.99" r="10.4" stroke="#000" stroke-width="3.5" fill="none"/>
<circle cx="445.38" cy="503.94" r="10.4" stroke="#000" stroke-width="3.5" fill="none"/>
<circle cx="509.11" cy="551.65" r="10.4" stroke="#000" stroke-width="3.5" fill="none"/>
<circle cx="572.85" cy="561.71" r="10.4" stroke="#000" stroke-width="3.5" fill="none"/>
<circle cx="636.58" cy="591.25" r="10.4" stroke="#000" stroke-width="3.5" fill="none"/>
<circle cx="700.32" cy="652.94" r="10.4" stroke="#000" stroke-width="3.5" fill="none"/>
<circle cx="764.05" cy="676.33" r="10.4" stroke="#000" stroke-width="3.5" fill="none"/>
<circle cx="827.79" cy="708.75" r="10.4" stroke="#000" stroke-width="3.5" fill="none"/>
<circle cx="891.52" cy="735.93" r="10.4" stroke="#000" stroke-width="3.5" fill="none"/>
<circle cx="955.26" cy="770.57" r="10.4" stroke="#000" stroke-width="3.5" fill="none"/>
<circle cx="1018.99" cy="801.94" r="10.4" stroke="#000" stroke-width="3.5" fill="none"/>
<circle cx="1082.73" cy="841.02" r="10.4" stroke="#000" stroke-width="3.5" fill="none"/>
<circle cx="1146.46" cy="872.25" r="10.4" stroke="#000" stroke-width="3.5" fill="none"/>
<circle cx="1210.20" cy="897.22" r="10.4" stroke="#000" stroke-width="3.5" fill="none"/>
<circle cx="1273.93" cy="934.21" r="10.4" stroke="#000" stroke-width="3.5" fill="none"/>
<circle cx="1337.66" cy="978.64" r="10.4" stroke="#000" stroke-width="3.5" fill="none"/>
<circle cx="1401.40" cy="1018.64" r="10.4" stroke="#000" stroke-width="3.5" fill="none"/>
<circle cx="254.17" cy="170.66" r="10.4" stroke="#f00" stroke-width="3.5" fill="none"/>
<circle cx="317.91" cy="212.35" r="10.4" stroke="#f00" stroke-width="3.5" fill="none"/>
<circle cx="381.64" cy="223.46" r="10.4" stroke="#f00" stroke-width="3.5" fill="none"/>
<circle cx="445.38" cy="250.38" r="10.4" stroke="#f00" stroke-width="3.5" fill="none"/>
<circle cx="509.11" cy="339.13" r="10.4" stroke="#f00" stroke-width="3.5" fill="none"/>
<circle cx="572.85" cy="364.75" r="10.4" stroke="#f00" stroke-width="3.5" fill="none"/>
<circle cx="636.58" cy="392.45" r="10.4" stroke="#f00" stroke-width="3.5" fill="none"/>
<circle cx="700.32" cy="428.27" r="10.4" stroke="#f00" stroke-width="3.5" fill="none"/>
<circle cx="764.05" cy="462.64" r="10.4" stroke="#f00" stroke-width="3.5" fill="none"/>
<circle cx="827.79" cy="508.65" r="10.4" stroke="#f00" stroke-width="3.5" fill="none"/>
<circle cx="891.52" cy="546.81" r="10.4" stroke="#f00" stroke-width="3.5" fill="none"/>
<circle cx="955.26" cy="602.36" r="10.4" stroke="#f00" stroke-width="3.5" fill="none"/>
<circle cx="1018.99" cy="645.10" r="10.4" stroke="#f00" stroke-width="3.5" fill="none"/>
<circle cx="1082.73" cy="689.93" r="10.4" stroke="#f00" stroke-width="3.5" fill="none"/>
<circle cx="1146.46" cy="730.31" r="10.4" stroke="#f00" stroke-width="3.5" fill="none"/>
<circle cx="1210.20" cy="771.75" r="10.4" stroke="#f00" stroke-width="3.5" fill="none"/>
<circle cx="1273.93" cy="812.65" r="10.4" stroke="#f00" stroke-width="3.5" fill="none"/>
<circle cx="1337.66" cy="865.59" r="10.4" stroke="#f00" stroke-width="3.5" fill="none"/>
<circle cx="1401.40" cy="923.10" r="10.4" stroke="#f00" stroke-width="3.5" fill="none"/>
<circle cx="254.17" cy="898.66" r="10.4" stroke="#000" stroke-width="3.5" fill="#d3d3d3"/>
<circle cx="317.91" cy="828.86" r="10.4" stroke="#000" stroke-width="3.5" fill="#d3d3d3"/>
<circle cx="381.64" cy="763.25" r="10.4" stroke="#000" stroke-width="3.5" fill="#d3d3d3"/>
<circle cx="445.38" cy="692.67" r="10.4" stroke="#000" stroke-width="3.5" fill="#d3d3d3"/>
<circle cx="509.11" cy="609.55" r="10.4" stroke="#000" stroke-width="3.5" fill="#d3d3d3"/>
<circle cx="572.85" cy="528.25" r="10.4" stroke="#000" stroke-width="3.5" fill="#d3d3d3"/>
<circle cx="636.58" cy="468.13" r="10.4" stroke="#000" stroke-width="3.5" fill="#d3d3d3"/>
<circle cx="700.32" cy="451.27" r="10.4" stroke="#000" stroke-width="3.5" fill="#d3d3d3"/>
<circle cx="764.05" cy="385.79" r="10.4" stroke="#000" stroke-width="3.5" fill="#d3d3d3"/>
<circle cx="827.79" cy="330.11" r="10.4" stroke="#000" stroke-width="3.5" fill="#d3d3d3"/>
<circle cx="891.52" cy="270.12" r="10.4" stroke="#000" stroke-width="3.5" fill="#d3d3d3"/>
<circle cx="955.26" cy="207.51" r="10.4" stroke="#000" stroke-width="3.5" fill="#d3d3d3"/>
<circle cx="1018.99" cy="161.25" r="10.4" stroke="#000" stroke-width="3.5" fill="#d3d3d3"/>
<circle cx="1082.73" cy="148.57" r="10.4" stroke="#000" stroke-width="3.5" fill="#d3d3d3"/>
<circle cx="1146.46" cy="129.22" r="10.4" stroke="#000" stroke-width="3.5" fill="#d3d3d3"/>
<circle cx="1210.20" cy="111.19" r="10.4" stroke="#000" stroke-width="3.5" fill="#d3d3d3"/>
<circle cx="1273.93" cy="156.41" r="10.4" stroke="#000" stroke-width="3.5" fill="#d3d3d3"/>
<circle cx="1337.66" cy="299.66" r="10.4" stroke="#000" stroke-width="3.5" fill="#d3d3d3"/>
<circle cx="1401.40" cy="573.47" r="10.4" stroke="#000" stroke-width="3.5" fill="#d3d3d3"/>
</g>
<path d="M190.44,1047.00v-13.3M190.44,27.54v13.3M254.17,1047.00v-13.3M254.17,27.54v13.3M317.91,1047.00v-13.3M317.91,27.54v13.3M445.38,1047.00v-13.3M445.38,27.54v13.3M509.11,1047.00v-13.3M509.11,27.54v13.3M572.85,1047.00v-13.3M572.85,27.54v13.3M700.32,1047.00v-13.3M700.32,27.54v13.3M764.05,1047.00v-13.3M764.05,27.54v13.3M827.79,1047.00v-13.3M827.79,27.54v13.3M955.26,1047.00v-13.3M955.26,27.54v13.3M1018.99,1047.00v-13.3M1018.99,27.54v13.3M1082.73,1047.00v-13.3M1082.73,27.54v13.3M1210.20,1047.00v-13.3M1210.20,27.54v13.3M1273.93,1047.00v-13.3M1273.93,27.54v13.3M1337.67,1047.00v-13.3M1337.67,27.54v13.3M139.45,1020.86h13.3M1414.15,1020.86h-13.3M139.45,994.72h13.3M1414.15,994.72h-13.3M139.45,968.58h13.3M1414.15,968.58h-13.3M139.45,942.44h13.3M1414.15,942.44h-13.3M139.45,890.16h13.3M1414.15,890.16h-13.3M139.45,864.02h13.3M1414.15,864.02h-13.3M139.45,837.88h13.3M1414.15,837.88h-13.3M139.45,811.74h13.3M1414.15,811.74h-13.3M139.45,759.46h13.3M1414.15,759.46h-13.3M139.45,733.32h13.3M1414.15,733.32h-13.3M139.45,707.18h13.3M1414.15,707.18h-13.3M139.45,681.04h13.3M1414.15,681.04h-13.3M139.45,628.76h13.3M1414.15,628.76h-13.3M139.45,602.62h13.3M1414.15,602.62h-13.3M139.45,576.48h13.3M1414.15,576.48h-13.3M139.45,550.34h13.3M1414.15,550.34h-13.3M139.45,498.06h13.3M1414.15,498.06h-13.3M139.45,471.92h13.3M1414.15,471.92h-13.3M139.45,445.78h13.3M1414.15,445.78h-13.3M139.45,419.64h13.3M1414.15,419.64h-13.3M139.45,367.36h13.3M1414.15,367.36h-13.3M139.45,341.22h13.3M1414.15,341.22h-13.3M139.45,315.08h13.3M1414.15,315.08h-13.3M139.45,288.94h13.3M1414.15,288.94h-13.3M139.45,236.66h13.3M1414.15,236.66h-13.3M139.45,210.52h13.3M1414.15,210.52h-13.3M139.45,184.38h13.3M1414.15,184.38h-13.3M139.45,158.24h13.3M1414.15,158.24h-13.3M139.45,105.96h13.3M1414.15,105.96h-13.3M139.45,79.82h13.3M1414.15,79.82h-13.3M139.45,53.68h13.3M1414.15,53.68h-13.3M139.45,27.54h13.3M1414.15,27.54h-13.3" stroke="#222" stroke-width="1.3" fill="none"/>
<path d="M381.64,1047.00v-22.5M381.64,27.54v22.5M636.58,1047.00v-22.5M636.58,27.54v22.5M891.52,1047.00v-22.5M891.52,27.54v22.5M1146.46,1047.00v-22.5M1146.46,27.54v22.5M1401.40,1047.00v-22.5M1401.40,27.54v22.5M139.45,1047.00h22.5M1414.15,1047.00h-22.5M139.45,916.30h22.5M1414.15,916.30h-22.5M139.45,785.60h22.5M1414.15,785.60h-22.5M139.45,654.90h22.5M1414.15,654.90h-22.5M139.45,524.20h22.5M1414.15,524.20h-22.5M139.45,393.50h22.5M1414.15,393.50h-22.5M139.45,262.80h22.5M1414.15,262.80h-22.5M139.45,132.10h22.5M1414.15,132.10h-22.5" stroke="#000" stroke-width="3.8" fill="none"/>
<rect x="139.45" y="27.54" width="1274.70" height="1019.46" stroke="#000" stroke-width="3.7" fill="none"/>
<g font-family="'Liberation Sans', sans-serif" font-size="33.5" fill="#000"><text x="381.64" y="1082" text-anchor="middle">0.2</text><text x="636.58" y="1082" text-anchor="middle">0.4</text><text x="891.52" y="1082" text-anchor="middle">0.6</text><text x="1146.46" y="1082" text-anchor="middle">0.8</text><text x="125" y="1058.80" text-anchor="end">0</text><text x="125" y="797.40" text-anchor="end">0.2</text><text x="125" y="666.70" text-anchor="end">0.3</text><text x="125" y="536.00" text-anchor="end">0.4</text><text x="125" y="405.30" text-anchor="end">0.5</text><text x="125" y="274.60" text-anchor="end">0.6</text><text x="125" y="143.90" text-anchor="end">0.7</text><text x="106.40" y="928.10" text-anchor="end">0.</text></g>
<path d="M1404.90,1058.10L1404.90,1081.90L1401.40,1081.90L1401.40,1063.60C1399.80,1065.10 1397.60,1066.30 1395.40,1066.90L1395.40,1063.70C1398.50,1062.60 1401.20,1060.60 1402.30,1058.10ZM119.20,904.30L119.20,928.10L115.70,928.10L115.70,909.80C114.10,911.30 111.90,912.50 109.70,913.10L109.70,909.90C112.80,908.80 115.50,906.80 116.60,904.30Z" fill="#000"/>
<rect x="410.9" y="709.2" width="412.10" height="328.30" fill="#fff" stroke="#5a5a5a" stroke-width="1.4"/>
<path d="M429.2,763.80H607.5" stroke="#000" stroke-width="4.5"/>
<path d="M429.2,811.60H607.5" stroke="#f00" stroke-width="4.5"/>
<path d="M429.3,859.40h22.6M474.5,859.40h22.6M519.7,859.40h22.6M564.9,859.40h22.6" stroke="#000" stroke-width="4.5"/>
<circle cx="518.5" cy="907.20" r="10.4" stroke="#000" stroke-width="3.5" fill="none"/>
<circle cx="518.5" cy="955.00" r="10.4" stroke="#f00" stroke-width="3.5" fill="none"/>
<circle cx="518.5" cy="1002.80" r="10.4" stroke="#000" stroke-width="3.5" fill="#d3d3d3"/>
<g font-family="'Liberation Serif', serif" font-size="40" fill="#000"><text x="637.80" y="775.80" font-style="italic">K</text><text x="664.60" y="787.30" font-style="italic" font-size="25">T</text><text x="683.10" y="775.80">EFD</text><text x="637.80" y="919.20" font-style="italic">K</text><text x="664.60" y="930.70" font-style="italic" font-size="25">T</text><text x="683.10" y="919.20">CFD</text><text x="638.80" y="823.60">10</text><text x="679.80" y="823.60" font-style="italic">K</text><text x="703.90" y="835.10" font-style="italic" font-size="25">Q</text><text x="727.20" y="823.60">EFD</text><text x="638.80" y="967.00">10</text><text x="679.80" y="967.00" font-style="italic">K</text><text x="703.90" y="978.50" font-style="italic" font-size="25">Q</text><text x="727.20" y="967.00">CFD</text><text x="638.90" y="871.40">η</text><text x="661.70" y="882.90" font-size="25">0</text><text x="679.40" y="871.40">EFD</text><text x="638.90" y="1014.80">η</text><text x="661.70" y="1026.30" font-size="25">0</text><text x="679.40" y="1014.80">CFD</text></g>
<path d="M781,1093.9L796.2,1093.9L796.2,1095.3L791.6,1095.9L783.6,1124.2C781.8,1130.4 778,1133.9 772.4,1133.9C767.6,1133.9 762.3,1132.2 762.3,1128.4C762.3,1126.1 763.9,1124.6 766,1124.6C768.1,1124.6 769.4,1126 769.4,1127.9C769.4,1129.6 768.6,1130.4 768.8,1130.9C769.6,1131.9 770.9,1132.2 772.2,1132.2C775.2,1132.2 776.8,1129.6 777.9,1124.8L785.1,1095.9L781,1095.3Z" fill="#000"/>
<g font-family="'Liberation Serif', serif" fill="#000"><text font-size="60" font-style="italic" transform="translate(54.40,699.67) rotate(-90)">K</text><text font-size="36" font-style="italic" transform="translate(72.60,659.69) rotate(-90)">T</text><text font-size="60" transform="translate(54.40,628.40) rotate(-90)">,</text><text font-size="60" transform="translate(54.40,595.85) rotate(-90)">10</text><text font-size="60" font-style="italic" transform="translate(54.40,537.38) rotate(-90)">K</text><text font-size="36" font-style="italic" transform="translate(72.60,498.33) rotate(-90)">Q</text><text font-size="60" transform="translate(54.40,460.15) rotate(-90)">,</text><text font-size="60" transform="translate(54.40,427.00) rotate(-90)">η</text><text font-size="36" transform="translate(72.60,391.65) rotate(-90)">0</text></g>
</svg>
</body></html>
